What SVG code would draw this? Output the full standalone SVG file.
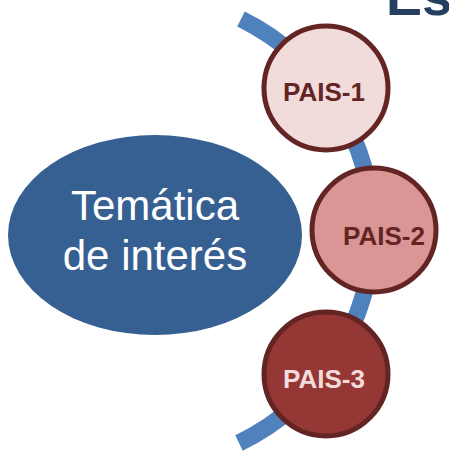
<svg xmlns="http://www.w3.org/2000/svg" width="449" height="455" viewBox="0 0 449 455">
<style>
.pais { stroke: #632523; stroke-width: 5; }
.lbl { font-family: "Liberation Sans", Arial, sans-serif; font-weight: bold; font-size: 26px; text-anchor: middle; }
.main { font-family: "Liberation Sans", Arial, sans-serif; font-size: 42px; fill: #FFFFFF; text-anchor: middle; }
</style>
<rect width="449" height="455" fill="#FFFFFF"/>
<text x="386" y="15" font-family="Liberation Sans, Arial, sans-serif" font-weight="bold" font-size="54" fill="#243F60">Es</text>
<g id="connectors">
  <path d="M 241 19 A 236 236 0 0 1 239 443" fill="none" stroke="#4F81BD" stroke-width="17"/>
</g>
<g id="tematica">
  <ellipse cx="155" cy="235" rx="147" ry="100" fill="#376092"/>
  <text class="main" x="155" y="220">Temática</text>
  <text class="main" x="155" y="270">de interés</text>
</g>
<g id="pais1">
  <circle class="pais" cx="326" cy="88" r="62" fill="#F2DCDB"/>
  <text class="lbl" x="324" y="101" fill="#632523" textLength="82" lengthAdjust="spacingAndGlyphs">PAIS-1</text>
</g>
<g id="pais2">
  <circle class="pais" cx="374" cy="230" r="62" fill="#D99694"/>
  <text class="lbl" x="384" y="245" fill="#632523" textLength="82" lengthAdjust="spacingAndGlyphs">PAIS-2</text>
</g>
<g id="pais3">
  <circle class="pais" cx="326" cy="374" r="62" fill="#953735"/>
  <text class="lbl" x="324" y="388" fill="#F2DCDB" textLength="82" lengthAdjust="spacingAndGlyphs">PAIS-3</text>
</g>
</svg>
